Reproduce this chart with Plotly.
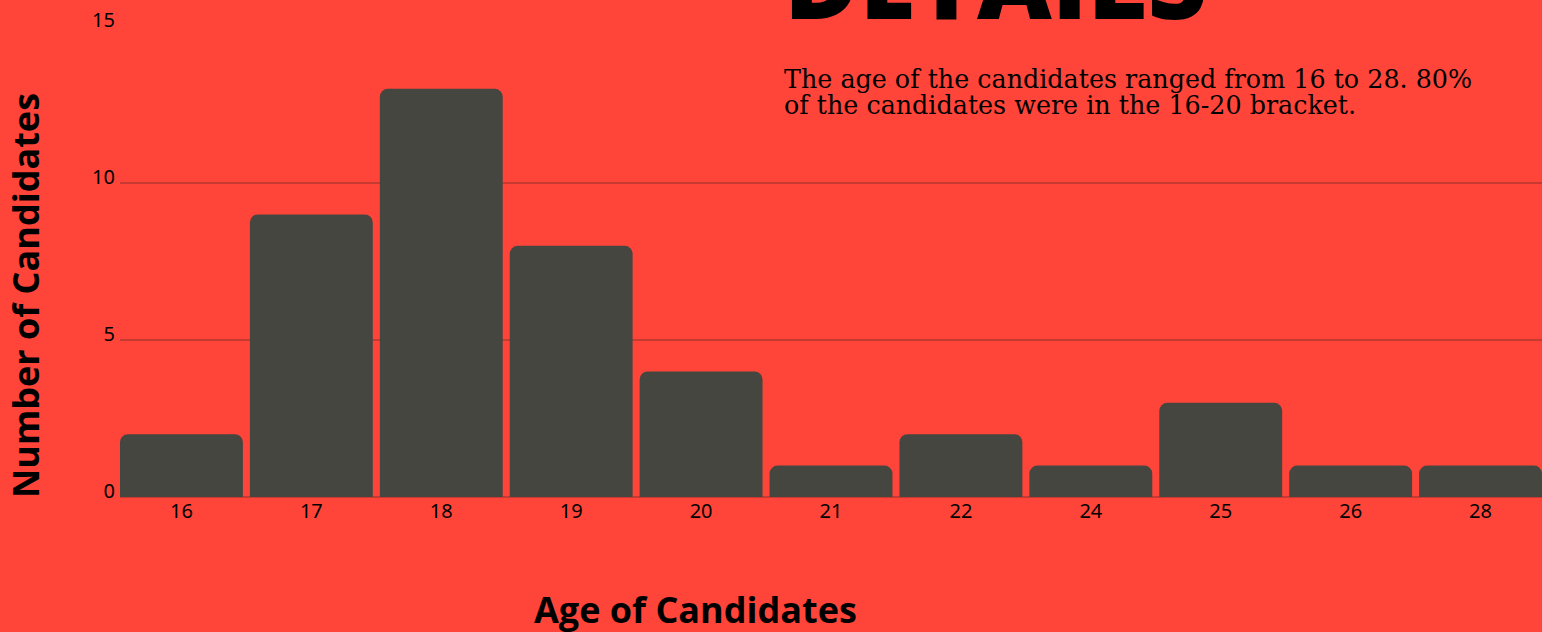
import plotly.graph_objects as go

ages = ["16", "17", "18", "19", "20", "21", "22", "24", "25", "26", "28"]
counts = [2, 9, 13, 8, 4, 1, 2, 1, 3, 1, 1]
y_ticks = [0, 5, 10, 15]

title_text = "DETAILS"
note_lines = ["The age of the candidates ranged from 16 to 28. 80%",
              "of the candidates were in the 16-20 bracket."]

bg = "#FF4539"
bar_color = "#464641"
grid_color = "#C73A32"

fig = go.Figure(go.Bar(x=ages, y=counts, marker=dict(color=bar_color, cornerradius=8, line=dict(width=0))))

fig.update_layout(
    width=1542, height=632,
    paper_bgcolor=bg, plot_bgcolor=bg,
    margin=dict(l=120, r=0, t=26, b=135),
    bargap=0.054,
    showlegend=False,
    font=dict(family="Noto Sans", color="black", size=20),
)
fig.update_xaxes(type="category", range=[-0.473, 10.473], showgrid=False, showline=False, ticks="",
                 tickfont=dict(size=20))
fig.update_yaxes(range=[0, 15], tickvals=y_ticks, showgrid=True, gridcolor=grid_color, gridwidth=1.5,
                 zeroline=True, zerolinecolor=grid_color, zerolinewidth=1.5, showline=False,
                 ticklabelshift=-6, ticklabelstandoff=4, tickfont=dict(size=20))

# big heading, cut by the top edge
fig.add_annotation(text=title_text, xref="paper", yref="paper", x=(782 - 120) / 1422, y=1 - 25 / 471,
                   xanchor="left", yanchor="bottom", showarrow=False,
                   font=dict(family="Open Sans", size=103, color="black", weight=800))
for i, line in enumerate(note_lines):
    fig.add_annotation(text=line, xref="paper", yref="paper", x=(782 - 120) / 1422,
                       y=1 - (36 + 26 * i) / 471,
                       xanchor="left", yanchor="top", align="left", showarrow=False,
                       font=dict(family="DejaVu Serif", size=25.4, color="black"))

# axis titles
fig.add_annotation(text="<b>Number of Candidates</b>", xref="paper", yref="paper",
                   x=-(120 - 25) / 1422, y=(497 - 296) / 471, textangle=-90,
                   xanchor="center", yanchor="middle", showarrow=False,
                   font=dict(family="Open Sans", size=36, color="black"))
fig.add_annotation(text="<b>Age of Candidates</b>", xref="paper", yref="paper",
                   x=(695 - 120) / 1422, y=-(609 - 497) / 471,
                   xanchor="center", yanchor="middle", showarrow=False,
                   font=dict(family="Open Sans", size=36, color="black"))

fig.write_html("out.html", config={"displayModeBar": False},
               post_script="document.body.style.margin='0';")
